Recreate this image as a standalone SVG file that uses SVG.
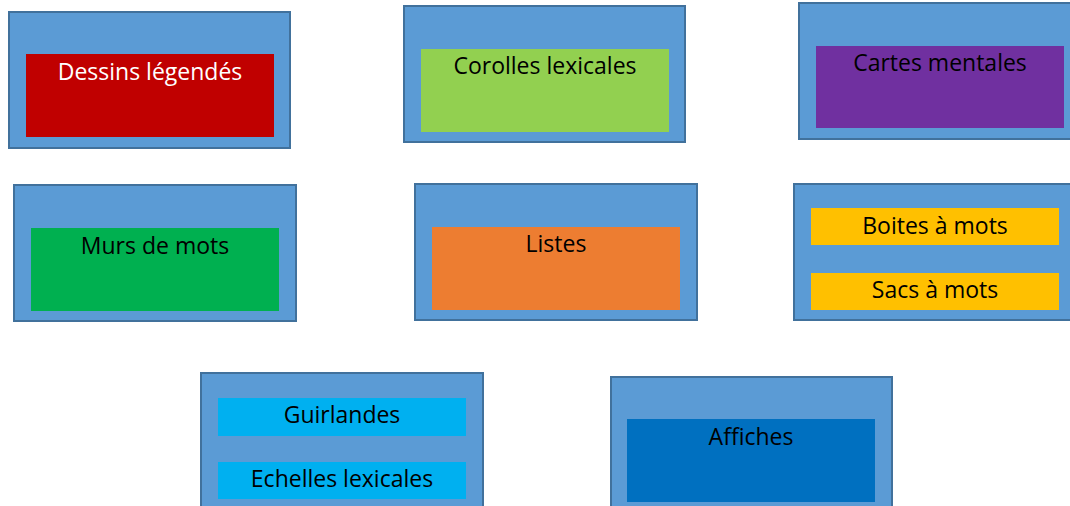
<svg xmlns="http://www.w3.org/2000/svg" width="1070" height="506" viewBox="0 0 1070 506">
<style>
.outer{fill:#5B9BD5;stroke:#41719C;stroke-width:2}
.t{font-family:"Open Sans","Liberation Sans",sans-serif;font-size:23px;text-anchor:middle;fill:#000}
.w{fill:#fff}
</style>
<rect width="1070" height="506" fill="#fff"/>
<g id="dessins">
<rect class="outer" x="9" y="12" width="281" height="136"/>
<rect x="26" y="54" width="248" height="83" fill="#C00000"/>
<text class="t w" x="150" y="80">Dessins légendés</text>
</g>
<g id="corolles">
<rect class="outer" x="404" y="6" width="281" height="136"/>
<rect x="421" y="49" width="248" height="83" fill="#92D050"/>
<text class="t" x="545" y="74">Corolles lexicales</text>
</g>
<g id="cartes">
<rect class="outer" x="799" y="3" width="281" height="136"/>
<rect x="816" y="46" width="248" height="82" fill="#7030A0"/>
<text class="t" x="940" y="71">Cartes mentales</text>
</g>
<g id="murs">
<rect class="outer" x="14" y="185" width="282" height="136"/>
<rect x="31" y="228" width="248" height="83" fill="#00B050"/>
<text class="t" x="155" y="254">Murs de mots</text>
</g>
<g id="listes">
<rect class="outer" x="415" y="184" width="282" height="136"/>
<rect x="432" y="227" width="248" height="83" fill="#ED7D31"/>
<text class="t" x="556" y="252">Listes</text>
</g>
<g id="boites-sacs">
<rect class="outer" x="794" y="184" width="286" height="136"/>
<rect x="811" y="208" width="248" height="37" fill="#FFC000"/>
<text class="t" x="935" y="234">Boites à mots</text>
<rect x="811" y="273" width="248" height="37" fill="#FFC000"/>
<text class="t" x="935" y="298">Sacs à mots</text>
</g>
<g id="guirlandes-echelles">
<rect class="outer" x="201" y="373" width="282" height="140"/>
<rect x="218" y="398" width="248" height="38" fill="#00B0F0"/>
<text class="t" x="342" y="423">Guirlandes</text>
<rect x="218" y="462" width="248" height="37" fill="#00B0F0"/>
<text class="t" x="342" y="487">Echelles lexicales</text>
</g>
<g id="affiches">
<rect class="outer" x="611" y="377" width="281" height="140"/>
<rect x="627" y="419" width="248" height="83" fill="#0070C0"/>
<text class="t" x="751" y="445">Affiches</text>
</g>
</svg>
